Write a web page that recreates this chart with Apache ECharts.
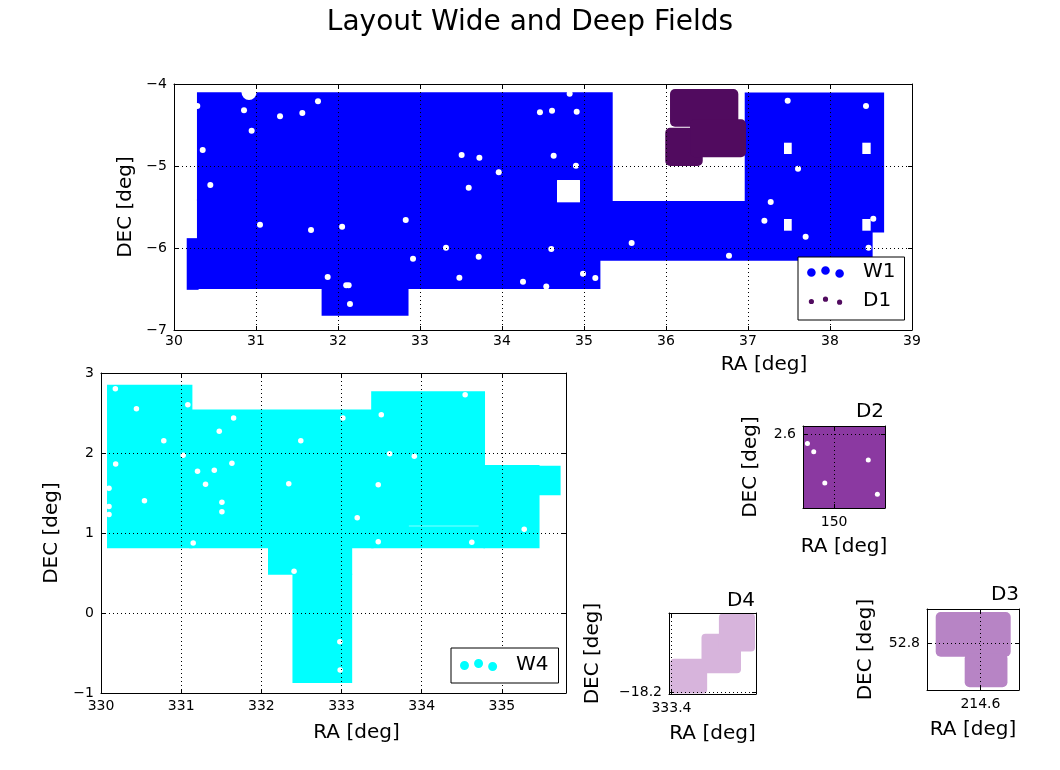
<!DOCTYPE html>
<html>
<head>
<meta charset="utf-8">
<title>Layout Wide and Deep Fields</title>
<script src="https://cdn.jsdelivr.net/npm/echarts@6/dist/echarts.min.js"></script>
<style>
    html, body { margin: 0; padding: 0; background: #fff; }
    #chart { width: 1060px; height: 770px; }
</style>
</head>
<body>
<div id="chart"></div>
<script>
// footprints are [raMin, raMax, decMin, decMax] in deg, holes are [ra, dec]
// neighbouring pieces overlap a little so no seam shows between them
const w1Fields = [
    [30.28, 35.35, -5.43, -4.10],
    [30.28, 35.20, -6.50, -5.40],
    [30.155, 30.30, -6.51, -5.88],
    [31.80, 32.86, -6.825, -6.48],
    [35.18, 38.52, -6.155, -5.427],
    [36.96, 38.66, -5.81, -4.105]
];
const w1Masks = [
    [34.671, 34.951, -5.443, -5.171],
    [37.439, 37.533, -4.854, -4.716],
    [38.394, 38.496, -4.854, -4.716],
    [37.439, 37.533, -5.789, -5.646],
    [38.394, 38.496, -5.789, -5.646]
];
const w1Holes = [
    [30.284, -4.268], [30.854, -4.321], [31.293, -4.394], [31.565, -4.354], [31.756, -4.211],
    [30.947, -4.569], [30.35, -4.805], [30.443, -5.232], [31.049, -5.716], [31.671, -5.78],
    [32.05, -5.74], [32.826, -5.659], [32.915, -6.13], [31.874, -6.354], [32.10, -6.455],
    [32.13, -6.455], [32.146, -6.683], [33.317, -5.996], [33.508, -4.866], [33.724, -4.898],
    [33.96, -5.077], [33.594, -5.264], [33.716, -6.106], [33.48, -6.362], [34.256, -6.411],
    [34.463, -4.346], [34.61, -4.325], [34.911, -4.337], [34.63, -4.874], [34.902, -4.996],
    [34.601, -6.012], [34.988, -6.313], [35.138, -6.366], [34.825, -4.12], [34.54, -6.47],
    [37.484, -4.203], [38.439, -4.268], [37.61, -5.033], [37.277, -5.439], [37.2, -5.667],
    [37.703, -5.862], [35.581, -5.939], [36.768, -6.094], [38.528, -5.642], [38.47, -5.996]
];
const w1BigHoles = [[30.915, -4.104]];
const d1Fields = [
    [36.049, 36.882, -4.521, -4.061],
    [35.991, 36.448, -5.0, -4.533],
    [36.293, 36.976, -4.894, -4.43]
];
const w4Fields = [
    [330.075, 331.14, 0.808, 2.854],
    [331.10, 333.40, 0.808, 2.545],
    [333.37, 334.79, 0.808, 2.771],
    [334.77, 335.733, 1.471, 1.842],
    [334.77, 335.47, 0.808, 1.85],
    [332.083, 333.133, 0.479, 0.82],
    [332.388, 333.133, -0.875, 0.49]
];
const w4Masks = [[333.84, 334.71, 1.083, 1.091]];
const w4Holes = [
    [330.179, 2.804], [330.442, 2.554], [330.783, 2.154], [330.183, 1.863], [331.025, 1.971],
    [331.083, 2.604], [330.542, 1.404], [330.1, 1.56], [330.1, 1.33], [330.1, 1.23],
    [331.15, 0.875], [331.204, 1.771], [331.304, 1.608], [331.413, 1.783], [331.475, 2.271],
    [331.508, 1.383], [331.508, 1.267], [331.633, 1.871], [331.654, 2.438], [332.342, 1.617],
    [332.492, 2.154], [332.408, 0.521], [333.017, 2.438], [333.196, 1.192], [333.496, 2.479],
    [333.458, 1.604], [333.458, 0.892], [333.6, 1.992], [333.908, 1.958], [334.542, 2.729],
    [334.625, 0.883], [335.279, 1.046], [332.979, -0.358], [332.983, -0.713]
];
const d2Fields = [[149.5, 150.8, 1.6, 2.8]];
const d2Holes = [[149.674, 2.494], [149.751, 2.391], [149.886, 2.012], [150.416, 2.290], [150.527, 1.874]];
const d4Fields = [
    [333.385, 333.835, -18.213, -17.79],
    [333.766, 334.247, -17.967, -17.483],
    [333.978, 334.418, -17.70, -17.237]
];
const d3Fields = [
    [214.046, 214.975, 52.633, 53.184],
    [214.405, 214.935, 52.254, 52.675]
];

// axis ranges and the single tick shown on the deep fields
const w1Ra = [30, 39], w1Dec = [-7, -4];
const w4Ra = [330, 335.8], w4Dec = [-1, 3];
const d2Ra = [149.62, 150.62], d2Dec = [1.706, 2.706];
const d4Ra = [333.37, 334.43], d4Dec = [-18.22, -17.23];
const d3Ra = [213.938, 215.078], d3Dec = [52.221, 53.221];
const d2RaTicks = [150], d2DecTicks = [2.6];
const d4RaTicks = [333.4], d4DecTicks = [-18.2];
const d3RaTicks = [214.6], d3DecTicks = [52.8];

const font = 'DejaVu Sans';
const minus = v => String(v).replace('-', '\u2212');

function axisPair(dim, gi, range, o) {
    const tick = { inside: true, length: 4, lineStyle: { color: '#000', width: 1 } };
    if (o.ticks) tick.customValues = o.ticks;
    const line = { show: true, onZero: false, lineStyle: { color: '#000', width: 1 } };
    const base = { type: 'value', gridIndex: gi, min: range[0], max: range[1], z: 5 };
    if (o.interval) base.interval = o.interval;
    const label = {
        fontSize: 14, fontFamily: font, color: '#000',
        margin: o.margin, formatter: minus
    };
    if (o.ticks) label.customValues = o.ticks;
    if (o.hideMax) label.showMaxLabel = false;
    const main = Object.assign({}, base, {
        position: dim === 'x' ? 'bottom' : 'left',
        name: o.name, nameLocation: 'middle', nameGap: o.nameGap,
        nameTextStyle: { fontSize: 20, fontFamily: font, color: '#000', padding: o.namePad || 0 },
        axisLine: line, axisTick: tick, axisLabel: label,
        splitLine: { show: true, lineStyle: { color: '#000', width: 1, type: [1, 3] } }
    });
    const mirror = Object.assign({}, base, {
        position: dim === 'x' ? 'top' : 'right',
        axisLine: line, axisTick: tick,
        axisLabel: { show: false }, splitLine: { show: false }
    });
    return [main, mirror];
}

function rectSeries(name, gi, data, color, radius, z) {
    return {
        type: 'custom', name: name, xAxisIndex: 2 * gi, yAxisIndex: 2 * gi,
        data: data, z: z, silent: true, clip: true,
        itemStyle: { color: color },
        encode: { x: [0, 1], y: [2, 3] },
        renderItem: function (params, api) {
            const a = api.coord([api.value(0), api.value(3)]);
            const b = api.coord([api.value(1), api.value(2)]);
            return {
                type: 'rect',
                shape: { x: a[0], y: a[1], width: b[0] - a[0], height: b[1] - a[1], r: radius },
                style: { fill: color }
            };
        }
    };
}

function holeSeries(gi, data, size) {
    return {
        type: 'scatter', xAxisIndex: 2 * gi, yAxisIndex: 2 * gi, data: data,
        symbol: 'circle', symbolSize: size, z: 4, silent: true,
        itemStyle: { color: '#fff', opacity: 1 }
    };
}

// three dots like a scatter legend handle
function dotsIcon(r, ys) {
    let p = 'path://M0,0 M51,12';
    [4.4, 18.5, 32.6].forEach(function (cx, i) {
        p += ' M' + (cx - r) + ',' + ys[i] + ' a' + r + ',' + r + ' 0 1,0 ' + (2 * r) + ',0 a' +
            r + ',' + r + ' 0 1,0 ' + (-2 * r) + ',0 Z';
    });
    return p;
}

const legendBase = {
    orient: 'vertical', itemWidth: 51, itemHeight: 12, itemGap: 9,
    backgroundColor: '#fff', borderColor: '#000', borderWidth: 1, borderRadius: 0,
    selectedMode: false, z: 10,
    textStyle: { fontSize: 20, fontFamily: font, color: '#000', lineHeight: 20 }
};

const xAxes = [].concat(
    axisPair('x', 0, w1Ra, { interval: 1, margin: 4, name: 'RA [deg]', nameGap: 25, namePad: [0, 0, 0, 442] }),
    axisPair('x', 1, w4Ra, { interval: 1, margin: 6, hideMax: true, name: 'RA [deg]', nameGap: 30, namePad: [0, 0, 0, 46] }),
    axisPair('x', 2, d2Ra, { ticks: d2RaTicks, margin: 7, name: 'RA [deg]', nameGap: 29 }),
    axisPair('x', 3, d4Ra, { ticks: d4RaTicks, margin: 7, name: 'RA [deg]', nameGap: 30 }),
    axisPair('x', 4, d3Ra, { ticks: d3RaTicks, margin: 7, name: 'RA [deg]', nameGap: 30 })
);
const yAxes = [].concat(
    axisPair('y', 0, w1Dec, { interval: 1, margin: 7, name: 'DEC [deg]', nameGap: 37 }),
    axisPair('y', 1, w4Dec, { interval: 1, margin: 7, name: 'DEC [deg]', nameGap: 39 }),
    axisPair('y', 2, d2Dec, { ticks: d2DecTicks, margin: 7, name: 'DEC [deg]', nameGap: 42 }),
    axisPair('y', 3, d4Dec, { ticks: d4DecTicks, margin: 7, name: 'DEC [deg]', nameGap: 66 }),
    axisPair('y', 4, d3Dec, { ticks: d3DecTicks, margin: 7, name: 'DEC [deg]', nameGap: 51 })
);

let myChart = echarts.init(document.getElementById('chart'), null, { renderer: 'canvas' });
let option = {
    animation: false,
    backgroundColor: '#fff',
    title: [
        { text: 'Layout Wide and Deep Fields', left: 'center', top: 9, padding: 0,
          textStyle: { fontSize: 28, fontWeight: 'normal', fontFamily: font, color: '#000' } },
        { text: 'D2', right: 176, top: 402, padding: 0,
          textStyle: { fontSize: 20, fontWeight: 'normal', fontFamily: font, color: '#000' } },
        { text: 'D4', right: 305, top: 591, padding: 0,
          textStyle: { fontSize: 20, fontWeight: 'normal', fontFamily: font, color: '#000' } },
        { text: 'D3', right: 41, top: 585, padding: 0,
          textStyle: { fontSize: 20, fontWeight: 'normal', fontFamily: font, color: '#000' } }
    ],
    grid: [
        { left: 174, top: 84, width: 738, height: 246, outerBoundsMode: 'none' },
        { left: 101, top: 373, width: 465, height: 320, outerBoundsMode: 'none' },
        { left: 803, top: 426, width: 82, height: 82, outerBoundsMode: 'none' },
        { left: 669, top: 613, width: 87, height: 81, outerBoundsMode: 'none' },
        { left: 927, top: 609, width: 92, height: 81, outerBoundsMode: 'none' }
    ],
    xAxis: xAxes,
    yAxis: yAxes,
    legend: [
        Object.assign({}, legendBase, {
            left: 798, top: 257, padding: [5, 9, 9, 9],
            data: [
                { name: 'W1', icon: dotsIcon(4.3, [6.5, 4.5, 7.5]) },
                { name: 'D1', icon: dotsIcon(2.6, [6.5, 4.2, 7.2]) }
            ]
        }),
        Object.assign({}, legendBase, {
            left: 451, top: 648, padding: [7, 10, 8, 9],
            data: [{ name: 'W4', icon: dotsIcon(4.5, [6.5, 4.5, 7.5]) }]
        })
    ],
    series: [
        rectSeries('W1', 0, w1Fields, '#0000ff', 0, 2),
        rectSeries('D1', 0, d1Fields, '#510b5f', 5, 2),
        rectSeries('W1 masks', 0, w1Masks, '#ffffff', 0, 3),
        holeSeries(0, w1Holes, 6),
        holeSeries(0, w1BigHoles, 15),
        rectSeries('W4', 1, w4Fields, '#00ffff', 0, 2),
        rectSeries('W4 masks', 1, w4Masks, '#ffffff', 0, 3),
        holeSeries(1, w4Holes, 5.5),
        rectSeries('D2', 2, d2Fields, '#8b39a1', 0, 2),
        holeSeries(2, d2Holes, 5),
        rectSeries('D4', 3, d4Fields, '#d7b4dc', 4, 2),
        rectSeries('D3', 4, d3Fields, '#b784c5', 5, 2)
    ]
};
myChart.setOption(option);
</script>
</body>
</html>
